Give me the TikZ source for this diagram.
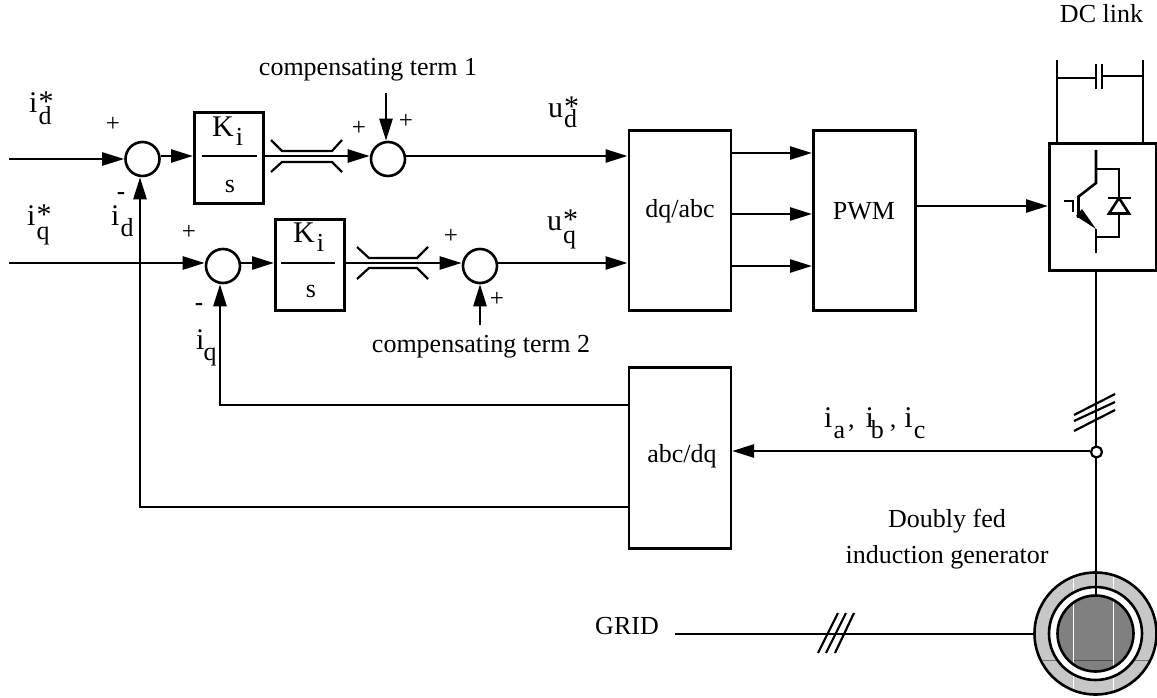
\documentclass[tikz,border=0pt]{standalone}
\usepackage{fontspec}
\setmainfont{Liberation Serif}
\usetikzlibrary{arrows.meta,calc}
\newcommand\bigt[1]{{\fontsize{30}{32}\selectfont #1}}
\newcommand\stk[4]{\bigt{#1}\kern1pt\rlap{\raisebox{1pt}{\bigt{*}}}\raisebox{-#4pt}{#3}}
\newcommand\lowr[3]{\bigt{#1}\kern#3pt\raisebox{-11pt}{#2}}
\tikzset{
  wire/.style={line width=2.6pt},
  arr/.style={wire,-{Triangle[length=22pt,width=13pt]}},
  fine/.style={line width=2.2pt},
  blockbox/.style={draw,line width=2.6pt,inner sep=0pt,anchor=north west},
  sumj/.style={draw,circle,line width=2.6pt,minimum size=34pt,inner sep=0pt},
  lab/.style={inner sep=0pt,anchor=base west,font=\fontsize{26}{30}\selectfont},
  clab/.style={inner sep=0pt,anchor=base,font=\fontsize{26}{30}\selectfont},
  sgn/.style={inner sep=0pt,anchor=center,font=\fontsize{25}{30}\selectfont},
}
\begin{document}
\begin{tikzpicture}[x=1pt,y=-1pt]
\useasboundingbox (0,0) rectangle (1157,698);
% blocks
\node[blockbox,minimum width=69pt,minimum height=91pt] (k1) at (193,111) {};
\node[blockbox,minimum width=69pt,minimum height=91pt] (k2) at (274,218) {};
\node[blockbox,minimum width=102pt,minimum height=180pt] (dqabc) at (627.5,129) {};
\node[blockbox,minimum width=102pt,minimum height=180pt] (pwm) at (812,129) {};
\node[blockbox,minimum width=102pt,minimum height=181pt] (abcdq) at (627.5,366) {};
\node[blockbox,minimum width=107pt,minimum height=127pt] (conv) at (1048,142) {};
\node[sumj] (s1) at (142.5,159) {};
\node[sumj] (s2) at (388,159) {};
\node[sumj] (s3) at (223,266) {};
\node[sumj] (s4) at (480,266) {};
% free ends and levels
\coordinate (in1) at (9,159);
\coordinate (in2) at (9,263);
\coordinate (c1) at (386,93);
\coordinate (c2) at (480,325);
\coordinate (y1) at (0,156);
\coordinate (y2) at (0,263);
\coordinate (fbq) at (0,405);
\coordinate (fbd) at (0,507);
\coordinate (xd) at (140,0);
\coordinate (xq) at (220,0);
% generator
\coordinate (gen) at (1095.5,633.5);
\fill[black!22] (gen) circle[radius=61];
\draw[line width=0.8pt,black!55] ($(gen)+(-53,26.5)$) -- ($(gen)+(53,26.5)$);
\fill[white] (gen) circle[radius=46.5];
\fill[black!50] (gen) circle[radius=38];
\begin{scope}
  \clip (gen) circle[radius=38];
  \draw[line width=0.8pt,black!70] ($(gen)+(-23,26.5)$) -- ($(gen)+(18,26.5)$);
\end{scope}
\begin{scope}
  \clip (gen) circle[radius=61];
  \draw[line width=0.8pt,white] ($(gen)+(-22.5,-61)$) -- ($(gen)+(-22.5,61)$);
  \draw[line width=0.8pt,white] ($(gen)+(17.5,-61)$) -- ($(gen)+(17.5,61)$);
\end{scope}
\draw[wire] (gen) circle[radius=61];
\draw[wire] (gen) circle[radius=46.5];
\draw[wire] (gen) circle[radius=38];
% forward path
\draw[arr] (in1) -- (s1.west |- in1);
\draw[arr] (s1.east |- y1) -- (k1.west |- y1);
\draw[arr] (k1.east |- y1) -- (s2.west |- y1);
\draw[arr] (s2.east |- y1) -- (dqabc.west |- y1);
\draw[arr] (in2) -- (s3.west |- in2);
\draw[arr] (s3.east |- y2) -- (k2.west |- y2);
\draw[arr] (k2.east |- y2) -- (s4.west |- y2);
\draw[arr] (s4.east |- y2) -- (dqabc.west |- y2);
\draw[arr] (c1) -- (s2.north -| c1);
\draw[arr] (c2) -- (s4.south);
% fractions
\draw[wire] ($(k1.west |- y1)+(9,0)$) -- ($(k1.east |- y1)+(-8,0)$);
\draw[wire] ($(k2.west |- y2)+(7,0)$) -- ($(k2.east |- y2)+(-11,0)$);
% limiters
\draw[fine] (271,140) -- (282,151) -- (332,151) -- (342,140);
\draw[fine] (271,172) -- (282,162) -- (332,162) -- (342,172);
\draw[fine] (357,247) -- (369,258) -- (417,258) -- (428,247);
\draw[fine] (357,279) -- (369,268) -- (417,268) -- (428,279);
% dq/abc to PWM to converter
\draw[arr] (dqabc.east |- 0,153) -- (pwm.west |- 0,153);
\draw[arr] (dqabc.east |- 0,214) -- (pwm.west |- 0,214);
\draw[arr] (dqabc.east |- 0,266) -- (pwm.west |- 0,266);
\draw[arr] (pwm.east |- 0,206) -- (conv.west |- 0,206);
% feedback
\draw[arr] (abcdq.west |- fbq) -- (xq |- fbq) -- (xq |- s3.south);
\draw[arr] (abcdq.west |- fbd) -- (xd |- fbd) -- (xd |- s1.south);
% measurement
\coordinate (tap) at (1096.5,452);
\draw[wire] (1096,269) -- (1096,596);
\node[draw,circle,line width=2.2pt,fill=white,minimum size=11pt,inner sep=0pt] (tapc) at (tap) {};
\draw[arr] (tapc.west |- 0,451) -- (abcdq.east |- 0,451);
\draw[fine] (1074,415) -- (1115,394);
\draw[fine] (1074,421) -- (1115,402);
\draw[fine] (1074,431) -- (1115,410);
% grid
\coordinate (gridstart) at (675,634);
\draw[wire] (gridstart) -- (1034,634);
\draw[fine] (818,653) -- (838,613);
\draw[fine] (826,653) -- (846,613);
\draw[fine] (835,653) -- (854,613);
% DC link
\draw[wire] (1057,60) -- (1057,142);
\draw[wire] (1143,60) -- (1143,142);
\draw[wire] (1057,78) -- (1096,78);
\draw[wire] (1096,64) -- (1096,89);
\draw[wire] (1102,64) -- (1102,89);
\draw[wire] (1102,76) -- (1143,76);
% IGBT
\draw[wire] (1096,150) -- (1096,183) -- (1078,197);
\draw[line width=3pt] (1078,196) -- (1078,218);
\draw[wire] (1064,201) -- (1073,201) -- (1073,212);
\draw[wire] (1096,229) -- (1096,253);
\fill (1076,216) -- (1082,209) -- (1096,229) -- cycle;
\draw[wire] (1096,169) -- (1119,169) -- (1119,199);
\draw[wire] (1119,213) -- (1119,237) -- (1096,237);
\draw[wire] (1109,213.5) -- (1129,213.5) -- (1119,198) -- cycle;
\draw[wire] (1108,198) -- (1131,198);
% texts
\node[lab] (ld) at (29,113) {\stk{i}{*}{d}{12}};
\node[lab] (lq) at (27,225) {\stk{i}{*}{q}{14}};
\node[lab] (fd) at (111,225) {\lowr{i}{d}{1}};
\node[lab] (fq) at (196,349) {\lowr{i}{q}{-1}};
\node[lab] (ud) at (548,118) {\stk{u}{*}{d}{10}};
\node[lab] (uq) at (547,230) {\stk{u}{*}{q}{13}};
\node[clab] (ct1) at (368,76) {compensating term 1};
\node[clab] (ct2) at (481,352) {compensating term 2};
\node[clab] (dc) at (1101.5,23) {DC link};
\node[clab] (tdq) at (680,218) {dq/abc};
\node[clab] (tpwm) at (864,219) {PWM};
\node[clab] (tabc) at (682,462) {abc/dq};
\node[clab] (tgrid) at (627,634) {GRID};
\node[lab] (iabc) at (824,427) {\lowr{i}{a}{1}\kern3pt,\kern11pt\lowr{i}{b}{-3}\kern6pt,\kern8pt\lowr{i}{c}{1}};
\node[clab] (dfig) at (947,527) {Doubly fed};
\node[clab] (dfig2) at (947,563) {induction generator};
\node[lab] (ki1) at (212,137) {\bigt{K}\kern2pt\raisebox{-9pt}{i}};
\node[clab] (si1) at (230,193) {s};
\node[lab] (ki2) at (293,242) {\bigt{K}\kern2pt\raisebox{-9pt}{i}};
\node[clab] (si2) at (311,297) {s};
\node[sgn] (p1) at (113,124) {+};
\node[sgn] (p2) at (189,232) {+};
\node[sgn] (p3) at (359,128) {+};
\node[sgn] (p4) at (406,121) {+};
\node[sgn] (p5) at (451,236) {+};
\node[sgn] (p6) at (497,299) {+};
\node[sgn,font=\fontsize{25}{30}\selectfont\bfseries] (m1) at (121,196) {-};
\node[sgn,font=\fontsize{25}{30}\selectfont\bfseries] (m2) at (199,307) {-};
\end{tikzpicture}
\end{document}
